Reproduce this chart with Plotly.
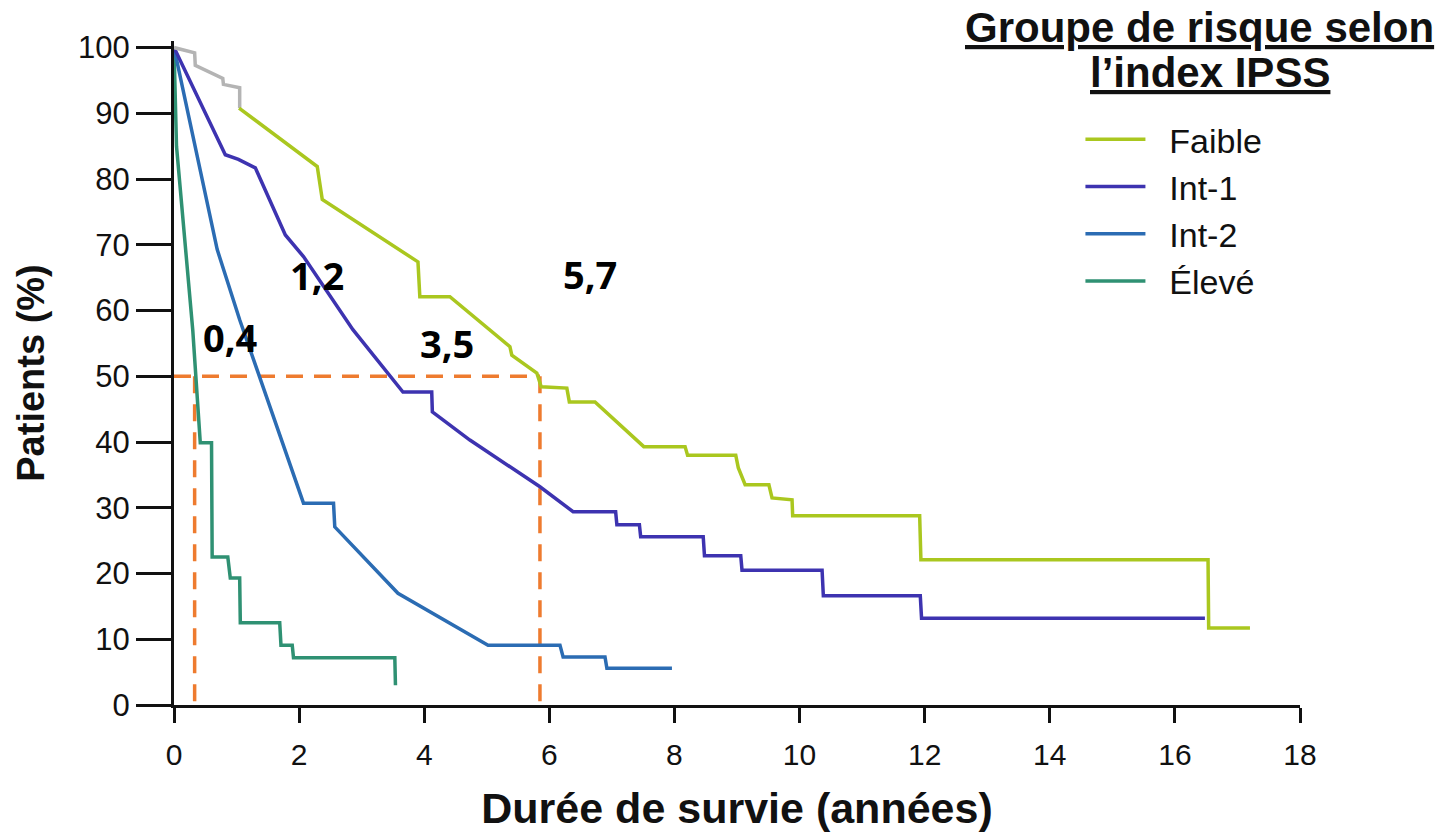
import plotly.graph_objects as go

# ---------------- data (years, % patients) ----------------
series_names = ["Faible", "Int-1", "Int-2", "Élevé"]

faible_x = [1.04, 2.29, 2.37, 3.90, 3.93, 4.41, 5.37, 5.40, 5.80, 5.87, 6.28, 6.32, 6.73,
            7.51, 8.17, 8.21, 8.98, 9.02, 9.13, 9.51, 9.56, 9.88, 9.89, 11.92, 11.94,
            16.53, 16.54, 17.2]
faible_y = [90.8, 81.9, 76.9, 67.4, 62.1, 62.1, 54.5, 53.2, 50.5, 48.4, 48.2, 46.1, 46.1,
            39.3, 39.3, 38.0, 38.0, 36.1, 33.5, 33.5, 31.5, 31.2, 28.8, 28.8, 22.1,
            22.1, 11.7, 11.7]

# faded (grey) beginning of the Faible curve
faible_start_x = [0, 0.33, 0.34, 0.78, 0.79, 1.05, 1.05]
faible_start_y = [100, 99.2, 97.3, 95.3, 94.4, 93.9, 90.8]

int1_x = [0, 0.82, 1.03, 1.30, 1.78, 2.07, 2.86, 3.66, 4.12, 4.13, 4.73, 5.85, 6.38,
          7.06, 7.08, 7.44, 7.46, 8.46, 8.48, 9.06, 9.08, 10.36, 10.38, 11.93, 11.95, 16.48]
int1_y = [100, 83.7, 83.0, 81.7, 71.5, 68.2, 57.1, 47.6, 47.6, 44.6, 40.3, 33.2, 29.4,
          29.4, 27.4, 27.4, 25.6, 25.6, 22.7, 22.7, 20.5, 20.5, 16.6, 16.6, 13.2, 13.2]

int2_x = [0, 0.69, 1.05, 1.16, 2.07, 2.55, 2.57, 3.58, 5.02, 6.17, 6.22, 6.89, 6.92, 7.96]
int2_y = [100, 69.3, 58.6, 55.6, 30.7, 30.7, 27.1, 17.0, 9.1, 9.1, 7.3, 7.3, 5.6, 5.6]

eleve_x = [0, 0.04, 0.30, 0.42, 0.60, 0.61, 0.86, 0.90, 1.05, 1.06, 1.69, 1.71, 1.89,
           1.91, 3.53, 3.54]
eleve_y = [100, 85, 57, 39.9, 39.9, 22.5, 22.5, 19.3, 19.3, 12.5, 12.5, 9.1, 9.1,
           7.2, 7.2, 3.0]

# median reference (dashed) lines at 50 %
median_level = 50
median_drop_x = [0.33, 5.85]

# median labels
median_labels = ["0,4", "1,2", "3,5", "5,7"]
label_pos_x = [0.90, 2.29, 4.36, 6.65]
label_pos_y = [56.0, 65.4, 55.0, 65.5]

x_ticks = list(range(0, 19, 2))
y_ticks = list(range(0, 101, 10))

# ---------------- styles ----------------
colors = {"Faible": "#aac71f", "Int-1": "#3d33b0", "Int-2": "#2b6cb3", "Élevé": "#2f9173"}
LW = 3.5
AXFONT = "Liberation Sans, Arial, sans-serif"
PAD = "\u00a0\u00a0"  # visual gap between legend line and label

fig = go.Figure()

# dashed median lines
dx, dy = [0, max(median_drop_x)], [median_level, median_level]
for mx in median_drop_x:
    dx += [None, mx, mx]
    dy += [None, median_level, 0]
fig.add_trace(go.Scatter(x=dx, y=dy, mode="lines", showlegend=False, hoverinfo="skip",
                         line=dict(color="#ee7b2f", width=3.5, dash="17px,11px")))

fig.add_trace(go.Scatter(x=eleve_x, y=eleve_y, mode="lines", name=PAD + "Élevé",
                         line=dict(color=colors["Élevé"], width=LW), legendrank=4))
fig.add_trace(go.Scatter(x=int2_x, y=int2_y, mode="lines", name=PAD + "Int-2",
                         line=dict(color=colors["Int-2"], width=LW), legendrank=3))
fig.add_trace(go.Scatter(x=int1_x, y=int1_y, mode="lines", name=PAD + "Int-1",
                         line=dict(color=colors["Int-1"], width=LW), legendrank=2))
fig.add_trace(go.Scatter(x=faible_start_x, y=faible_start_y, mode="lines", showlegend=False,
                         line=dict(color="#b4b4b4", width=LW)))
fig.add_trace(go.Scatter(x=faible_x, y=faible_y, mode="lines", name=PAD + "Faible",
                         line=dict(color=colors["Faible"], width=LW), legendrank=1))

for t, lx, ly in zip(median_labels, label_pos_x, label_pos_y):
    fig.add_annotation(x=lx, y=ly, text="<b>" + t + "</b>", showarrow=False,
                       font=dict(family="Noto Sans, Open Sans, sans-serif", size=38, color="black"))

# legend title (two lines, underlined)
fig.add_annotation(xref="paper", yref="paper", x=0.911, y=1.0196, xanchor="center", yanchor="middle",
                   text="<b><u>Groupe de risque selon</u></b>", showarrow=False,
                   font=dict(family=AXFONT, size=42, color="#111"))
fig.add_annotation(xref="paper", yref="paper", x=0.920, y=0.953, xanchor="center", yanchor="middle",
                   text="<b><u>l’index IPSS</u></b>", showarrow=False,
                   font=dict(family=AXFONT, size=42, color="#111"))

fig.update_layout(
    width=1450, height=832,
    margin=dict(l=174, r=150, t=41, b=127, autoexpand=False),
    paper_bgcolor="white", plot_bgcolor="white",
    showlegend=True,
    legend=dict(x=0.805, y=0.895, xanchor="left", yanchor="top",
                font=dict(family=AXFONT, size=34, color="#111"),
                bgcolor="rgba(0,0,0,0)", itemwidth=60, tracegroupgap=0),
    xaxis=dict(range=[0, 18], tickvals=x_ticks, ticktext=[str(v) for v in x_ticks],
               automargin=False,
               showgrid=False, zeroline=False, showline=True, linecolor="#111", linewidth=3,
               ticks="outside", ticklen=15, tickwidth=3, tickcolor="#111",
               ticklabelstandoff=6,
               tickfont=dict(family=AXFONT, size=30, color="#111"),
               title=dict(text="<b>Durée de survie (années)</b>", standoff=30,
                          font=dict(family=AXFONT, size=43, color="#111"))),
    yaxis=dict(range=[0, 101], tickvals=y_ticks, ticktext=[str(v) for v in y_ticks],
               automargin=False,
               showgrid=False, zeroline=False, showline=True, linecolor="#111", linewidth=3,
               ticks="outside", ticklen=35, tickwidth=3, tickcolor="#111",
               tickfont=dict(family=AXFONT, size=31, color="#111"),
               title=dict(text="<b>Patients (%)</b>", standoff=22,
                          font=dict(family=AXFONT, size=38, color="#111"))),
)

fig.write_html("out.html")
